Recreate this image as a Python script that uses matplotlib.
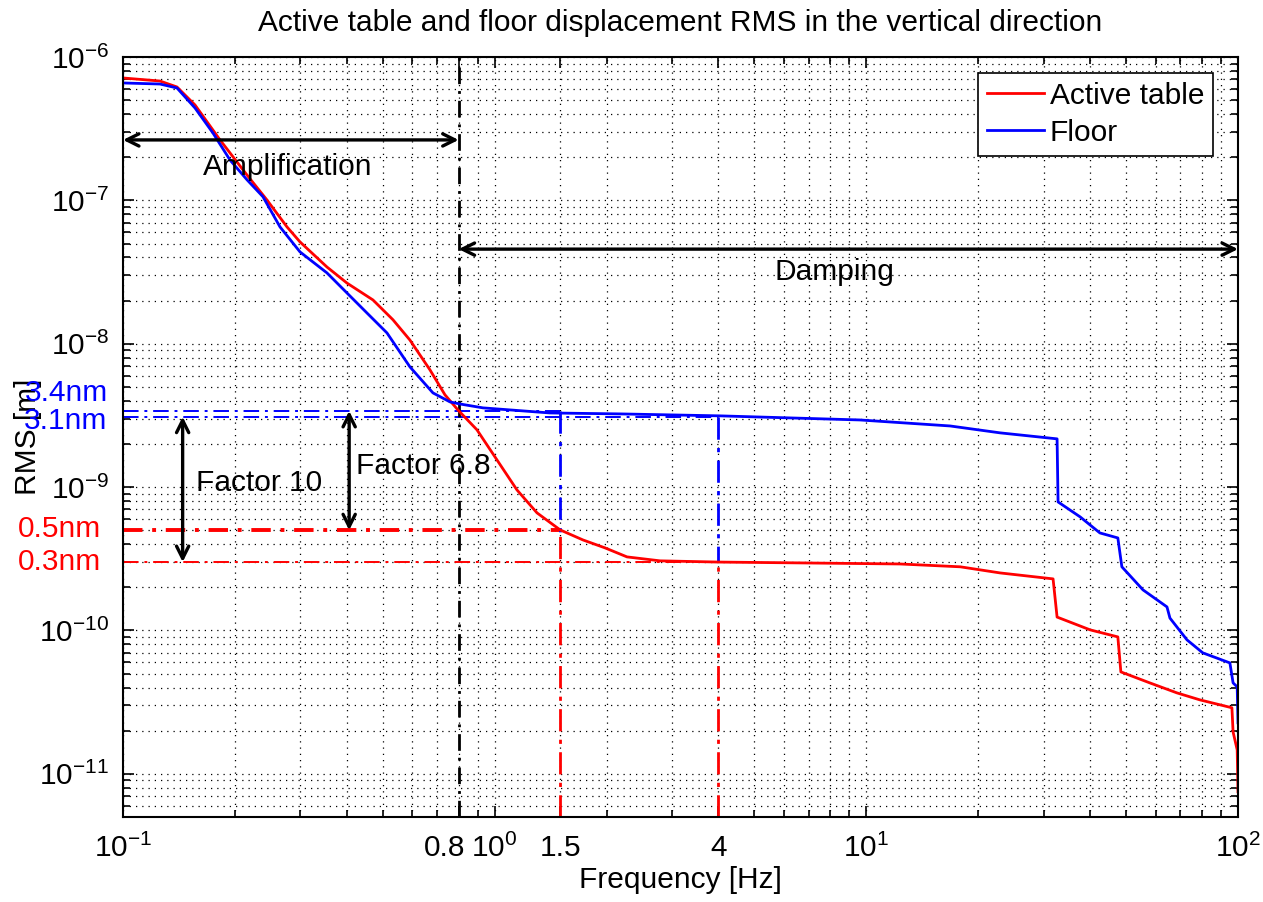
import matplotlib
matplotlib.use("Agg")
import matplotlib.pyplot as plt
import matplotlib.transforms as mtransforms
from matplotlib.ticker import FixedLocator, FixedFormatter, LogLocator, NullFormatter

plt.rcParams['font.family'] = ['Liberation Sans', 'DejaVu Sans']
plt.rcParams['axes.unicode_minus'] = False
plt.rcParams['mathtext.fontset'] = 'custom'
plt.rcParams['mathtext.rm'] = 'Liberation Sans'
plt.rcParams['mathtext.it'] = 'Liberation Sans:italic'

# RMS curves
freq_table = [0.1, 0.1257, 0.1397, 0.1562, 0.1824, 0.2157, 0.244, 0.2762, 0.2994, 0.3538,
              0.4005, 0.4705, 0.5325, 0.5917, 0.6698, 0.7351, 0.7967, 0.896, 1.014, 1.148,
              1.30, 1.50, 1.728, 1.98, 2.27, 2.785, 4.0, 6.63, 12.3, 17.9,
              22.9, 31.8, 32.6, 40.0, 47.5, 48.4, 57.9, 68.5, 79.0, 96.3,
              97.0, 99.5, 100.0]
rms_table = [7.14e-7, 6.80e-7, 6.18e-7, 4.63e-7, 2.64e-7, 1.50e-7, 1.006e-7, 6.53e-8, 5.13e-8, 3.43e-8,
             2.65e-8, 2.02e-8, 1.47e-8, 1.06e-8, 6.57e-9, 4.40e-9, 3.45e-9, 2.51e-9, 1.55e-9, 9.56e-10,
             6.61e-10, 5.03e-10, 4.28e-10, 3.77e-10, 3.26e-10, 3.06e-10, 3.0e-10, 2.96e-10, 2.91e-10, 2.78e-10,
             2.52e-10, 2.29e-10, 1.24e-10, 1.01e-10, 9.02e-11, 5.14e-11, 4.31e-11, 3.67e-11, 3.28e-11, 2.89e-11,
             1.96e-11, 1.47e-11, 7.5e-12]

freq_floor = [0.1, 0.1257, 0.1397, 0.1562, 0.1746, 0.1941, 0.2157, 0.238, 0.2645, 0.2994,
              0.3538, 0.4005, 0.4532, 0.5131, 0.5917, 0.6823, 0.7581, 0.8066, 0.9301, 1.409,
              2.174, 4.04, 9.61, 16.8, 22.9, 32.6, 32.8, 37.6, 42.5, 47.5,
              48.7, 55.5, 64.4, 65.6, 72.9, 80.4, 95.1, 97.0, 99.5, 100.0]
rms_floor = [6.59e-7, 6.48e-7, 6.08e-7, 4.41e-7, 2.95e-7, 1.91e-7, 1.39e-7, 1.06e-7, 6.53e-8, 4.37e-8,
             3.12e-8, 2.26e-8, 1.64e-8, 1.19e-8, 6.89e-9, 4.54e-9, 3.93e-9, 3.80e-9, 3.57e-9, 3.29e-9,
             3.24e-9, 3.14e-9, 2.94e-9, 2.67e-9, 2.39e-9, 2.17e-9, 7.88e-10, 6.20e-10, 4.79e-10, 4.42e-10,
             2.78e-10, 1.92e-10, 1.46e-10, 1.22e-10, 8.60e-11, 6.98e-11, 5.94e-11, 4.31e-11, 4.04e-11, 2.27e-11]

xtick_values = [0.1, 0.8, 1, 1.5, 4, 10, 100]
xtick_labels = ['$10^{-1}$', '0.8', '$10^{0}$', '1.5', '4', '$10^{1}$', '$10^{2}$']
ytick_values = [1e-11, 1e-10, 1e-9, 1e-8, 1e-7, 1e-6]

# marked levels (m) and frequencies (Hz)
blue_levels = [3.4e-9, 3.1e-9]
red_levels = [0.5e-9, 0.3e-9]
mark_freqs = [1.5, 4]
f_cross = 0.8
f_min, f_max = 0.1, 100

FS = 21.5

fig = plt.figure(figsize=(12.63, 9.02), dpi=100)
ax = fig.add_axes([123 / 1263, 85 / 902, 1115 / 1263, 760 / 902])

ax.set_xscale('log')
ax.set_yscale('log')
ax.set_xlim(f_min, f_max)
ax.set_ylim(5e-12, 1e-6)

# dash-dot reference lines
dd = (0, (8, 3, 1.5, 3))
ax.plot([f_min, mark_freqs[0]], [red_levels[0]] * 2, color='red', lw=2.8, ls=(0, (5, 2.5, 1, 2.5)))
ax.plot([f_min, mark_freqs[1]], [red_levels[1]] * 2, color='red', lw=1.4, ls=dd)
ax.plot([mark_freqs[0]] * 2, [5e-12, red_levels[0]], color='red', lw=2, ls=dd)
ax.plot([mark_freqs[1]] * 2, [5e-12, red_levels[1]], color='red', lw=2, ls=dd)
ax.plot([f_min, mark_freqs[0]], [blue_levels[0]] * 2, color='blue', lw=1.4, ls=dd)
ax.plot([f_min, mark_freqs[1]], [blue_levels[1]] * 2, color='blue', lw=1.4, ls=dd)
ax.plot([mark_freqs[0]] * 2, [blue_levels[0], 0.45e-9], color='blue', lw=2, ls=dd)
ax.plot([mark_freqs[1]] * 2, [blue_levels[1], red_levels[1]], color='blue', lw=2, ls=dd)
ax.plot([f_cross] * 2, [5e-12, 1e-6], color='black', lw=2, ls=(0, (6, 2.5, 1, 2.5)))

ax.plot(freq_table, rms_table, color='red', lw=2, label='Active table')
ax.plot(freq_floor, rms_floor, color='blue', lw=2, label='Floor')

# ticks and grid
ax.xaxis.set_major_locator(FixedLocator(xtick_values))
ax.xaxis.set_major_formatter(FixedFormatter(xtick_labels))
ax.xaxis.set_minor_locator(LogLocator(base=10, subs=range(2, 10), numticks=20))
ax.xaxis.set_minor_formatter(NullFormatter())
ax.yaxis.set_major_locator(FixedLocator(ytick_values))
ax.yaxis.set_minor_locator(LogLocator(base=10, subs=range(2, 10), numticks=20))
ax.yaxis.set_minor_formatter(NullFormatter())
ax.tick_params(which='both', direction='in', top=True, right=True, width=1.2, labelsize=FS)
ax.tick_params(which='major', length=8)
ax.tick_params(which='minor', length=5)
ax.tick_params(axis='x', pad=12)
ax.tick_params(axis='y', pad=10)
ax.grid(True, which='both', color='black', lw=0.9, ls=(0, (1, 4)))
for s in ax.spines.values():
    s.set_linewidth(1.5)

# shift the 0.8 label a little to the left, as in the original
lab08 = ax.get_xticklabels()[1]
lab08.set_transform(lab08.get_transform() + mtransforms.ScaledTranslation(-14 / 100, 0, fig.dpi_scale_trans))

# coloured level labels on the left
lvl_trans = mtransforms.blended_transform_factory(ax.transAxes, ax.transData)
for val, txt, dy in zip(blue_levels + red_levels, ['3.4nm', '3.1nm', '0.5nm', '0.3nm'], [13, -3, 1, 0]):
    c = 'blue' if val in blue_levels else 'red'
    ax.annotate(txt, xy=(0, val), xycoords=lvl_trans, xytext=(-11 if c == 'blue' else -16, dy),
                textcoords='offset points', ha='right', va='center', color=c, fontsize=FS)

# arrows
arr = dict(arrowstyle='<->', color='black', lw=2.4, mutation_scale=22, shrinkA=0, shrinkB=0)
ax.annotate('', xy=(f_min, 2.64e-7), xytext=(f_cross, 2.64e-7), arrowprops=arr)
ax.annotate('', xy=(f_cross, 4.57e-8), xytext=(f_max, 4.57e-8), arrowprops=arr)
ax.annotate('', xy=(0.1447, blue_levels[1]), xytext=(0.1447, red_levels[1]), arrowprops=arr)
ax.annotate('', xy=(0.406, blue_levels[0]), xytext=(0.406, red_levels[0]), arrowprops=arr)

ax.text(0.278, 1.71e-7, 'Amplification', fontsize=FS, ha='center', va='center')
ax.text(8.23, 3.17e-8, 'Damping', fontsize=FS, ha='center', va='center')
ax.text(0.232, 1.07e-9, 'Factor 10', fontsize=FS, ha='center', va='center')
ax.text(0.6415, 1.405e-9, 'Factor 6.8', fontsize=FS, ha='center', va='center')

ax.set_title('Active table and floor displacement RMS in the vertical direction', fontsize=21.5, pad=19)
ax.set_xlabel('Frequency [Hz]', fontsize=FS, labelpad=2)
ax.set_ylabel('RMS [m]', fontsize=FS)
ax.yaxis.set_label_coords(-0.0726, 0.5)

leg = ax.legend(loc='upper right', bbox_to_anchor=(0.9776, 0.979), fontsize=FS, fancybox=False,
                edgecolor='black', framealpha=1, borderaxespad=0, handlelength=1.9, borderpad=0.3,
                labelspacing=0.3, handletextpad=0.2)
leg.get_frame().set_linewidth(1.2)

fig.savefig('out.png', dpi=100)
